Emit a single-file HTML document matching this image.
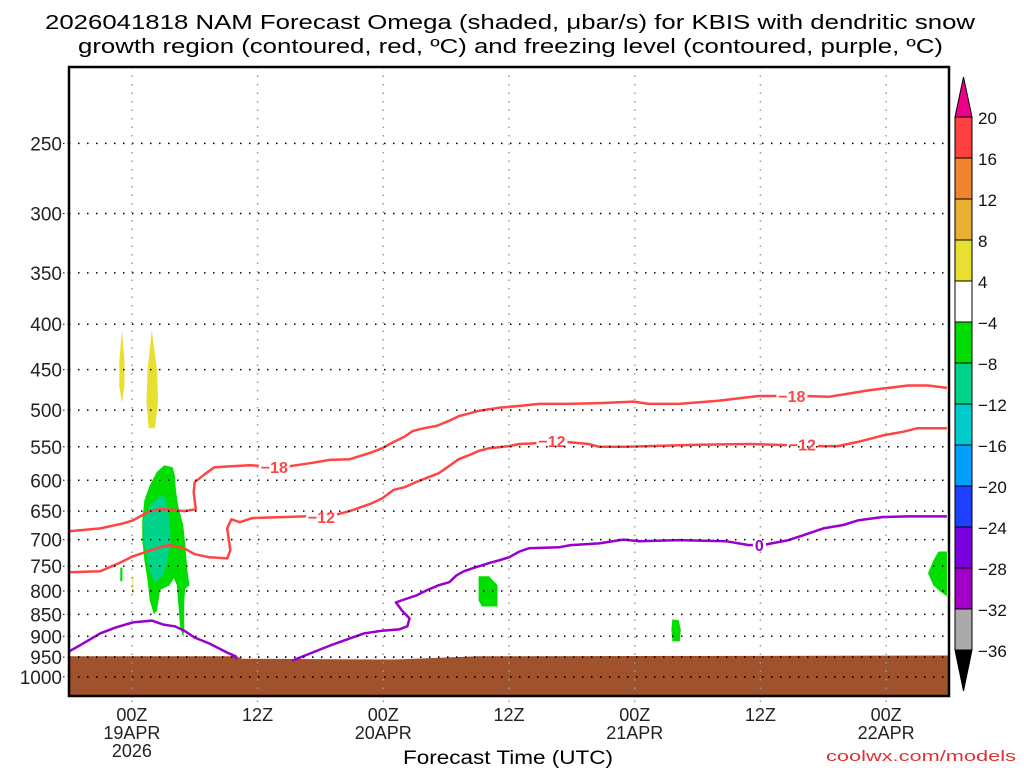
<!DOCTYPE html>
<html><head><meta charset="utf-8"><style>
html,body{margin:0;padding:0;background:#fff;}
svg{display:block;font-family:"Liberation Sans","DejaVu Sans",sans-serif;}
</style></head><body>
<svg id="chart" width="1024" height="768" viewBox="0 0 1024 768" xmlns="http://www.w3.org/2000/svg">
<text x="45" y="29" font-size="20" textLength="930" lengthAdjust="spacingAndGlyphs">2026041818 NAM Forecast Omega (shaded, μbar/s) for KBIS with dendritic snow</text>
<text x="78" y="53" font-size="20" textLength="865" lengthAdjust="spacingAndGlyphs">growth region (contoured, red, ºC) and freezing level (contoured, purple, ºC)</text>
<g id="plot"></g>
<g id="cbar"></g>
<text x="508" y="764" font-size="19" text-anchor="middle" textLength="210" lengthAdjust="spacingAndGlyphs">Forecast Time (UTC)</text>
<text x="1016" y="761" font-size="15" text-anchor="end" fill="#e03030" textLength="190" lengthAdjust="spacingAndGlyphs">coolwx.com/models</text>
</svg>
<script>
// ---- data (hours since 00Z 19APR, pressure hPa) ----
const pressureTicks = [250,300,350,400,450,500,550,600,650,700,750,800,850,900,950,1000];
const timeTickHours = [0,12,24,36,48,60,72];
const timeTickLabels = [["00Z","19APR","2026"],["12Z"],["00Z","20APR"],["12Z"],["00Z","21APR"],["12Z"],["00Z","22APR"]];
const isoMinus18 = [[-6,685],[-3,680],[-0.8,671],[0.1,666],[1.7,650],[2.7,647],[3.9,648],[5,650],[6.1,647],[5.9,619],[6,603],[7,590],[7.9,580],[11.2,577],[14.4,580],[17,574],[18.9,569],[20.8,568],[22.9,558],[23.9,552],[25,543],[26,536],[26.8,528],[27.9,524],[29.1,521],[30.3,514],[31.2,508],[33.1,501],[35,497],[37.4,494],[38.9,492],[41.7,492],[44.6,491],[47.9,489],[49.3,492],[52.2,492],[56,488],[59.8,482],[64.3,482],[66.5,483],[68.4,479],[70.3,475],[72.2,472],[74.1,469],[76,469],[77.8,472]];
const isoMinus12 = [[-6,762],[-3,760],[-1.1,743],[0.1,731],[2.7,714],[3.6,710],[5,716],[6,727],[7.4,733],[9.1,735],[9.4,720],[9.1,680],[9.5,664],[10.3,669],[11.5,662],[16.5,659],[19.3,657],[20.8,650],[22.9,637],[23.9,629],[25,615],[26,611],[27.4,601],[29.3,589],[30.3,578],[31.2,568],[32.2,562],[33.1,556],[34.1,552],[36,549],[37,546],[41.4,543],[43.6,546],[44.6,550],[46.9,550],[49.3,549],[54.1,547],[58.9,546],[65.5,549],[67.4,549],[69.3,543],[71.7,534],[73.6,529],[75,524],[77.8,524]];
const freezeA = [[-6,936],[-5,922],[-3,893],[-1.6,880],[0.1,868],[1.9,864],[3,873],[4.1,877],[5,887],[6,903],[7.4,917],[9.1,939],[9.9,948],[10,956]];
const freezeB = [[15.3,959],[17,941],[18.9,922],[20.8,905],[22.2,893],[23.9,887],[25.5,884],[26.3,877],[26.5,859],[25.8,842],[25.2,824],[26,818],[27.2,809],[28.2,798],[29.3,788],[30.3,782],[31,768],[31.7,760],[32.7,753],[34.1,744],[35,739],[36,733],[37,722],[37.9,716],[40.8,714],[41.9,710],[44.6,707],[46.9,700],[48.4,703],[52.2,701],[56.7,703],[58.9,710],[60.5,709],[62.7,701],[64.1,692],[66,680],[67.9,674],[69.3,666],[71.7,660],[74.1,659],[77.8,659]];
const contourLabels = [["-18",13.6,580,"#ff4444"],["-18",63,482,"#ff4444"],["-12",18.1,660,"#ff4444"],["-12",40.1,542,"#ff4444"],["-12",64,547,"#ff4444"],["0",59.9,710,"#9900cc"]];
const surfacePressure = [[-6,948],[10,948],[10.5,954],[25,956],[27,954],[33,948],[78,946]];
const greenMain = [[3.1,577],[3.9,580],[4.1,592],[4.2,615],[4.4,640],[4.9,674],[5.1,710],[5.3,758],[5.5,788],[5.1,795],[5,820],[5,887],[4.9,903],[4.6,875],[4.4,820],[4.3,788],[4,774],[3.6,788],[2.7,798],[2.4,842],[2.1,850],[1.7,820],[1.5,778],[1.2,739],[1,701],[1,666],[1.2,632],[1.7,608],[2.4,587]];
const tealMain = [[2.7,625],[3.2,627],[3.6,666],[3.7,701],[3.4,739],[3,768],[2.2,784],[1.7,758],[1.2,710],[1.1,666],[1.7,640]];
const yellowA = [[-0.95,406],[-0.7,440],[-0.7,470],[-0.95,491],[-1.2,470],[-1.2,440]];
const yellowB = [[1.9,406],[2.4,450],[2.5,490],[2.2,524],[1.6,524],[1.4,490],[1.5,450]];
const yellowC = [[0.05,770],[0.15,770],[0.15,805],[0.05,805]];
const greenSmall = [[-1.1,753],[-0.9,753],[-0.9,780],[-1.1,780]];
const greenB = [[33.1,770],[34.1,770],[34.9,788],[34.9,833],[33.4,833],[33.1,820]];
const greenC = [[51.6,861],[52.2,863],[52.4,885],[52.3,912],[51.6,912],[51.5,885]];
const greenD = [[77,722],[77.8,722],[77.8,811],[77.2,802],[76.5,788],[76,764],[76.5,739]];
const cbarLevels = ["20","16","12","8","4","-4","-8","-12","-16","-20","-24","-28","-32","-36"];
const cbarColors = ["#ff4040","#f08530","#e8b030","#e8e030","#ffffff","#00dd00","#00d48a","#00cccc","#00a0ff","#2040ff","#7a00dd","#a000c8","#aaaaaa"];

// ---- axes ----
const X0=69,X1=949,Y0=67,Y1=696, H0=-6,H1=78, PTOP=205, PBOT=1051;
const xs = h => X0 + (h-H0)/(H1-H0)*(X1-X0);
const ys = p => Y0 + Math.log(p/PTOP)/Math.log(PBOT/PTOP)*(Y1-Y0);
const NS="http://www.w3.org/2000/svg";
const plot=document.getElementById('plot'), cbar=document.getElementById('cbar');
function mk(tag,attrs,parent){const e=document.createElementNS(NS,tag);for(const k in attrs)e.setAttribute(k,attrs[k]);parent.appendChild(e);return e;}
const pts = arr => arr.map(d=>xs(d[0]).toFixed(1)+","+ys(d[1]).toFixed(1)).join(" ");

// clip
const defs=mk('defs',{},plot);
const cp=mk('clipPath',{id:'clip'},defs);
mk('rect',{x:X0,y:Y0,width:X1-X0,height:Y1-Y0},cp);
const g=mk('g',{'clip-path':'url(#clip)'},plot);

// shaded regions
[[greenMain,"#00dd00","omega-shade-main"],[tealMain,"#00d48a","omega-shade-core"],[yellowA,"#e8e030","omega-shade-upper-a"],[yellowB,"#e8e030","omega-shade-upper-b"],[yellowC,"#e8e030","omega-shade-small"],[greenSmall,"#00dd00","omega-shade-small-green"],[greenB,"#00dd00","omega-shade-20apr"],[greenC,"#00dd00","omega-shade-21apr"],[greenD,"#00dd00","omega-shade-22apr"]].forEach(s=>{
  const e=mk('polygon',{points:pts(s[0]),fill:s[1]},g);
  
  
});

// grid
pressureTicks.forEach(p=>{
  const y=ys(p);
  const l=mk('line',{x1:X0,x2:X1,y1:y,y2:y,stroke:'#000','stroke-width':1.5,'stroke-dasharray':'1.5 7.5'},plot);
  
  
  const t=mk('text',{x:62,y:y+7,'font-size':19,'text-anchor':'end',fill:'#222'},plot);
  t.textContent=p;
  
  
  mk('line',{x1:X0-6,x2:X0,y1:y,y2:y,stroke:'#000','stroke-width':1,'stroke-dasharray':'1.5 3'},plot);
});
timeTickHours.forEach((h,i)=>{
  const x=xs(h);
  const l=mk('line',{x1:x,x2:x,y1:Y0,y2:Y1,stroke:'#999','stroke-width':1.5,'stroke-dasharray':'1.5 7'},plot);
  
  
  mk('line',{x1:x,x2:x,y1:Y1,y2:Y1+8,stroke:'#999','stroke-width':1.5,'stroke-dasharray':'1.5 3'},plot);
  timeTickLabels[i].forEach((s,j)=>{
    const t=mk('text',{x:x,y:Y1+25+j*18,'font-size':18,'text-anchor':'middle',fill:'#222'},plot);
    t.textContent=s;
    
    
  });
});

// ground
const gp=surfacePressure.map(d=>[d[0],d[1]]);
const ground=mk('polygon',{points:pts(gp)+" "+xs(78)+","+Y1+" "+xs(-6)+","+Y1,fill:'#a0522d'},g);


pressureTicks.filter(p=>p>=950).forEach(p=>{
  mk('line',{x1:X0,x2:X1,y1:ys(p),y2:ys(p),stroke:'#000','stroke-width':1.5,'stroke-dasharray':'1.5 7.5'},g);
});

// contours
[[isoMinus18,"#ff4444","isotherm-minus18"],[isoMinus12,"#ff4444","isotherm-minus12"],[freezeA,"#9900cc","freezing-level-a"],[freezeB,"#9900cc","freezing-level-b"]].forEach(s=>{
  const e=mk('polyline',{points:pts(s[0]),fill:'none',stroke:s[1],'stroke-width':2.5,'stroke-linejoin':'round'},g);
  
  
});
contourLabels.forEach(c=>{
  const x=xs(c[1]),y=ys(c[2]);
  const w=c[0].length*9+4;
  mk('rect',{x:x-w/2,y:y-8,width:w,height:16,fill:'#fff'},g);
  const t=mk('text',{x:x,y:y+6,'font-size':16,'font-weight':'bold','text-anchor':'middle',fill:c[3]},g);
  t.textContent=c[0].replace('-','−');
  
  
});
const frame=mk('rect',{x:X0,y:Y0,width:X1-X0,height:Y1-Y0,fill:'none',stroke:'#000','stroke-width':2.5},plot);



// colorbar
const CX0=955,CX1=972,CB0=117,CB1=650;
const step=(CB1-CB0)/cbarColors.length;
mk('polygon',{points:`${CX0},${CB0} ${CX1},${CB0} ${(CX0+CX1)/2},77`,fill:'#ee0088',stroke:'#000','stroke-width':1},cbar);
mk('polygon',{points:`${CX0},${CB1} ${CX1},${CB1} ${(CX0+CX1)/2},691`,fill:'#000',stroke:'#000','stroke-width':1},cbar);
cbarColors.forEach((c,i)=>{
  const r=mk('rect',{x:CX0,y:CB0+i*step,width:CX1-CX0,height:step,fill:c,stroke:'#000','stroke-width':1},cbar);
  
  
});
cbarLevels.forEach((s,i)=>{
  const t=mk('text',{x:978,y:CB0+i*step+7,'font-size':17,fill:'#111'},cbar);
  t.textContent=s.replace('-','−');
  
  
});
</script>
</body></html>
